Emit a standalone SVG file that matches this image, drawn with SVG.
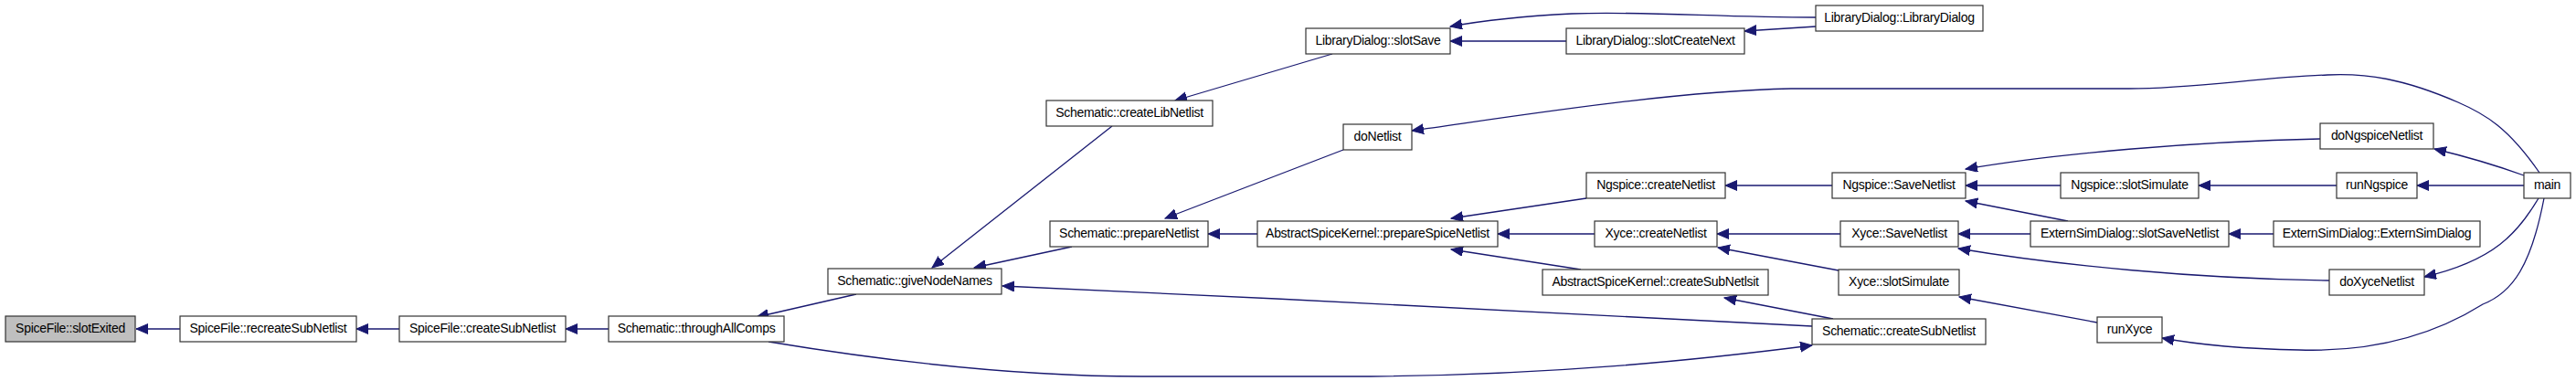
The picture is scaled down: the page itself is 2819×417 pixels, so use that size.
<svg xmlns="http://www.w3.org/2000/svg" width="2819" height="417" viewBox="0 0 2819 417">
<style>
.n rect{fill:#fff;stroke:#333;stroke-width:1.2}
.n.hl rect{fill:#bfbfbf}
.n text{font-family:"Liberation Sans",Arial,sans-serif;font-size:14px;letter-spacing:-0.3px;fill:#000;text-anchor:middle}
.e path{fill:none;stroke:#191970;stroke-width:1.3;marker-end:url(#ah)}
</style>
<defs>
<marker id="ah" markerUnits="userSpaceOnUse" markerWidth="14" markerHeight="12" refX="13" refY="5.5" orient="auto">
<path d="M0,0 L13,5.5 L0,11 z" fill="#191970" stroke="#191970" stroke-width="1"/>
</marker>
</defs>
<rect width="2819" height="417" fill="#fff"/>
<g id="edges" class="e">
<path d="M197,360 L149,360"/>
<path d="M437,360 L390,360"/>
<path d="M666,360 L619,360"/>
<path d="M937,322 L828,347"/>
<path d="M1217,138 L1020,293"/>
<path d="M1173,270 L1066,293"/>
<path d="M1983,357 C1800,348 1400,326 1097,313"/>
<path d="M841,374 C950,392 1100,412 1250,412 L1500,412 C1700,410 1850,395 1983,378"/>
<path d="M1458,59 L1286,110"/>
<path d="M1987,19 C1880,19 1800,12 1720,15 C1660,18 1620,23 1587,29"/>
<path d="M1714,45 L1587,45"/>
<path d="M1987,29 L1909,34"/>
<path d="M1470,164 L1275,239"/>
<path d="M1376,256 L1322,256"/>
<path d="M1736,217 L1588,239"/>
<path d="M1745,256 L1639,256"/>
<path d="M1730,295 L1588,273"/>
<path d="M2005,203 L1888,203"/>
<path d="M2014,256 L1879,256"/>
<path d="M2012,296 L1880,271"/>
<path d="M2006,349 L1887,326"/>
<path d="M2779,189 C2745,140 2720,125 2690,112 C2630,86 2590,80 2547,82 C2470,85 2400,97 2330,97 L1960,97 C1830,100 1680,124 1545,143"/>
<path d="M2762,192 C2740,184 2710,174 2664,163"/>
<path d="M2762,203 L2645,203"/>
<path d="M2778,217 C2755,255 2730,285 2653,303"/>
<path d="M2784,217 C2770,290 2750,320 2717,333 C2650,375 2580,385 2516,383 C2460,382 2410,378 2366,370"/>
<path d="M2539,152 C2400,155 2250,168 2151,185"/>
<path d="M2557,203 L2406,203"/>
<path d="M2255,203 L2151,203"/>
<path d="M2263,242 L2151,220"/>
<path d="M2488,256 L2439,256"/>
<path d="M2222,256 L2143,256"/>
<path d="M2549,307 C2400,305 2250,290 2143,272"/>
<path d="M2295,353 L2144,325"/>
</g>
<g id="n_slotExited" class="n hl"><rect x="6" y="346" width="142" height="28"/><text x="77" y="364">SpiceFile::slotExited</text></g>
<g id="n_recreateSubNetlist" class="n"><rect x="197" y="346" width="193" height="28"/><text x="293.5" y="364">SpiceFile::recreateSubNetlist</text></g>
<g id="n_spiceCreateSubNetlist" class="n"><rect x="437" y="346" width="182" height="28"/><text x="528" y="364">SpiceFile::createSubNetlist</text></g>
<g id="n_throughAllComps" class="n"><rect x="666" y="346" width="192" height="28"/><text x="762" y="364">Schematic::throughAllComps</text></g>
<g id="n_giveNodeNames" class="n"><rect x="906" y="294" width="190" height="28"/><text x="1001" y="312">Schematic::giveNodeNames</text></g>
<g id="n_createLibNetlist" class="n"><rect x="1145" y="110" width="182" height="28"/><text x="1236" y="128">Schematic::createLibNetlist</text></g>
<g id="n_prepareNetlist" class="n"><rect x="1149" y="242" width="173" height="28"/><text x="1235.5" y="260">Schematic::prepareNetlist</text></g>
<g id="n_slotSave" class="n"><rect x="1429" y="31" width="158" height="28"/><text x="1508" y="49">LibraryDialog::slotSave</text></g>
<g id="n_doNetlist" class="n"><rect x="1470" y="136" width="75" height="28"/><text x="1507.5" y="154">doNetlist</text></g>
<g id="n_prepareSpiceNetlist" class="n"><rect x="1376" y="242" width="263" height="28"/><text x="1507.5" y="260">AbstractSpiceKernel::prepareSpiceNetlist</text></g>
<g id="n_slotCreateNext" class="n"><rect x="1714" y="31" width="195" height="28"/><text x="1811.5" y="49">LibraryDialog::slotCreateNext</text></g>
<g id="n_LibraryDialog" class="n"><rect x="1987" y="6" width="183" height="28"/><text x="2078.5" y="24">LibraryDialog::LibraryDialog</text></g>
<g id="n_ngCreateNetlist" class="n"><rect x="1736" y="189" width="152" height="28"/><text x="1812" y="207">Ngspice::createNetlist</text></g>
<g id="n_xyCreateNetlist" class="n"><rect x="1745" y="242" width="134" height="28"/><text x="1812" y="260">Xyce::createNetlist</text></g>
<g id="n_createSubNetlsit" class="n"><rect x="1688" y="295" width="247" height="28"/><text x="1811.5" y="313">AbstractSpiceKernel::createSubNetlsit</text></g>
<g id="n_schCreateSubNetlist" class="n"><rect x="1983" y="349" width="190" height="28"/><text x="2078" y="367">Schematic::createSubNetlist</text></g>
<g id="n_ngSaveNetlist" class="n"><rect x="2005" y="189" width="146" height="28"/><text x="2078" y="207">Ngspice::SaveNetlist</text></g>
<g id="n_xySaveNetlist" class="n"><rect x="2014" y="242" width="129" height="28"/><text x="2078.5" y="260">Xyce::SaveNetlist</text></g>
<g id="n_xySlotSimulate" class="n"><rect x="2012" y="295" width="132" height="28"/><text x="2078" y="313">Xyce::slotSimulate</text></g>
<g id="n_ngSlotSimulate" class="n"><rect x="2255" y="189" width="151" height="28"/><text x="2330.5" y="207">Ngspice::slotSimulate</text></g>
<g id="n_slotSaveNetlist" class="n"><rect x="2222" y="242" width="217" height="28"/><text x="2330.5" y="260">ExternSimDialog::slotSaveNetlist</text></g>
<g id="n_runXyce" class="n"><rect x="2295" y="347" width="71" height="28"/><text x="2330.5" y="365">runXyce</text></g>
<g id="n_doNgspiceNetlist" class="n"><rect x="2539" y="135" width="124" height="28"/><text x="2601" y="153">doNgspiceNetlist</text></g>
<g id="n_runNgspice" class="n"><rect x="2557" y="189" width="88" height="28"/><text x="2601" y="207">runNgspice</text></g>
<g id="n_ExternSimDialog" class="n"><rect x="2488" y="242" width="226" height="28"/><text x="2601" y="260">ExternSimDialog::ExternSimDialog</text></g>
<g id="n_doXyceNetlist" class="n"><rect x="2549" y="295" width="104" height="28"/><text x="2601" y="313">doXyceNetlist</text></g>
<g id="n_main" class="n"><rect x="2762" y="189" width="51" height="28"/><text x="2787.5" y="207">main</text></g>
</svg>
